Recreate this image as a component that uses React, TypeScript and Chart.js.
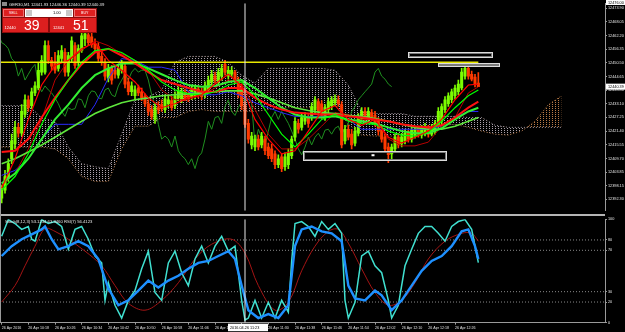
import React, { useEffect, useRef } from "react";
import { Chart, registerables } from "chart.js";

Chart.register(...registerables);

const FONT = "'Liberation Sans', Arial, Helvetica, sans-serif";

const symbolTitle = "GER30,M1  12441.93 12446.36 12440.39 12440.39";
const subTitle = "Stoch(8,12,3) 53.1234 63.9460  RSI(7) 56.4123";
const sellBig = "39";
const sellSmall = "12440";
const buyBig = "51";
const buySmall = "12441";
const lotText = "1.00";

const timeTickIndex = [0, 8, 16, 24, 32, 40, 48, 56, 64, 72, 80, 88, 96, 104, 112, 120, 128, 136];
const timeLabels = [
  "26 Apr 2016", "26 Apr 10:18", "26 Apr 10:26", "26 Apr 10:34", "26 Apr 10:42", "26 Apr 10:50",
  "26 Apr 10:58", "26 Apr 11:06", "26 Apr 11:14", "26 Apr 11:22", "26 Apr 11:30", "26 Apr 11:38",
  "26 Apr 11:46", "26 Apr 11:54", "26 Apr 12:02", "26 Apr 12:10", "26 Apr 12:18", "26 Apr 12:26",
];
const crossIndex = 73;
const crossTimeLabel = "2016.04.26 11:23";

const priceTicks = [12392.30, 12398.15, 12403.85, 12409.70, 12415.55, 12421.40, 12427.25, 12433.10,
  12438.80, 12444.65, 12450.50, 12456.35, 12462.20, 12468.05, 12473.90];
const priceMin = 12387.4;
const priceMax = 12476.0;
const topPriceLabel = "12476.00";
const stochTicks = [0, 20, 30, 70, 80, 100];
const levelValues = [80, 70, 30, 20];
const xMin = -0.5;
const xMax = 181;

const hLinePrice = 12450.8;
const hLineEnd = 143;

// drawn objects (bar index / price)
const objX0 = [121.9, 130.9, 90.4];
const objX1 = [147.1, 149.2, 133.3];
const objTop = [12455.0, 12450.6, 12413.0];
const objBottom = [12452.9, 12449.1, 12409.2];
const markerX = 111.4;
const markerPrice = 12411.1;

// candles (M1 bars, index 0 = 10:10)
const openP = [
  12392.8, 12396.2, 12401.2, 12409.6, 12415.9, 12423.0, 12420.5, 12428.5, 12434.8, 12432.3,
  12437.7, 12439.8, 12446.6, 12446.6, 12457.9, 12451.6, 12450.8, 12448.2, 12452.4, 12455.0,
  12446.6, 12452.4, 12457.9, 12450.8, 12455.8, 12460.8, 12462.5, 12461.7, 12458.7, 12457.5,
  12453.3, 12450.8, 12444.0, 12448.2, 12447.4, 12445.3, 12447.4, 12449.1, 12442.4, 12438.2,
  12436.5, 12439.8, 12438.2, 12436.1, 12433.1, 12430.6, 12426.4, 12431.4, 12432.7, 12430.6,
  12433.1, 12434.4, 12432.3, 12435.6, 12434.8, 12438.2, 12436.9, 12436.1, 12436.5, 12439.4,
  12438.2, 12436.9, 12439.0, 12442.4, 12444.9, 12442.4, 12444.9, 12449.9, 12444.9, 12445.7,
  12446.6, 12443.2, 12439.8, 12432.3, 12424.7, 12415.5, 12414.6, 12418.0, 12415.5, 12418.0,
  12414.6, 12413.8, 12411.7, 12407.1, 12410.4, 12406.2, 12407.1, 12410.9, 12418.8, 12424.7,
  12423.0, 12425.6, 12427.2, 12427.2, 12430.6, 12434.0, 12433.1, 12427.2, 12430.6, 12432.3,
  12433.5, 12434.8, 12432.7, 12417.2, 12422.2, 12420.1, 12416.3, 12420.5, 12426.4, 12429.8,
  12426.4, 12429.3, 12428.1, 12425.6, 12422.2, 12418.8, 12414.6, 12411.7, 12413.8, 12418.8,
  12415.9, 12417.2, 12420.5, 12418.0, 12419.7, 12422.2, 12419.7, 12420.5, 12422.6, 12420.1,
  12421.4, 12423.9, 12425.6, 12430.6, 12433.1, 12434.8, 12436.5, 12438.2, 12439.8, 12444.9,
  12448.2, 12445.7, 12444.5, 12441.93,
];
const highP = [
  12398.3, 12404.6, 12409.6, 12420.1, 12425.6, 12424.7, 12432.7, 12436.9, 12436.5, 12439.8,
  12442.4, 12450.8, 12453.7, 12460.0, 12460.0, 12452.9, 12455.0, 12455.8, 12457.9, 12456.6,
  12455.0, 12461.7, 12459.2, 12458.3, 12463.8, 12464.2, 12463.8, 12463.4, 12460.8, 12459.2,
  12455.8, 12452.4, 12449.9, 12449.5, 12449.1, 12449.9, 12451.6, 12450.8, 12444.0, 12442.4,
  12440.7, 12441.1, 12439.8, 12437.3, 12434.8, 12432.3, 12433.1, 12434.0, 12434.8, 12436.9,
  12436.5, 12436.1, 12438.2, 12440.3, 12439.8, 12439.4, 12438.6, 12440.7, 12441.1, 12440.7,
  12439.8, 12442.4, 12444.9, 12447.4, 12446.6, 12448.2, 12449.9, 12451.6, 12449.1, 12448.7,
  12447.4, 12444.5, 12441.5, 12434.0, 12426.4, 12420.9, 12419.7, 12419.7, 12420.9, 12419.3,
  12416.3, 12415.9, 12413.0, 12411.3, 12411.7, 12412.1, 12413.8, 12419.3, 12427.2, 12426.4,
  12428.9, 12429.3, 12428.5, 12433.5, 12436.1, 12435.2, 12434.4, 12432.7, 12435.6, 12436.1,
  12436.9, 12436.5, 12434.0, 12423.9, 12423.9, 12422.2, 12423.0, 12428.9, 12431.4, 12431.4,
  12431.4, 12430.6, 12429.8, 12427.2, 12423.9, 12420.1, 12416.3, 12415.9, 12420.1, 12420.5,
  12420.5, 12422.2, 12421.8, 12423.0, 12423.5, 12423.5, 12423.9, 12424.7, 12423.9, 12424.3,
  12426.0, 12431.4, 12433.1, 12436.1, 12437.7, 12439.4, 12441.1, 12443.2, 12448.2, 12449.9,
  12449.5, 12447.0, 12445.7, 12446.36,
];
const lowP = [
  12390.7, 12394.9, 12399.9, 12407.5, 12413.8, 12418.8, 12419.3, 12427.2, 12429.8, 12431.0,
  12436.5, 12439.0, 12445.3, 12445.7, 12450.3, 12447.4, 12446.1, 12447.0, 12450.8, 12444.9,
  12444.9, 12450.8, 12448.2, 12449.1, 12455.0, 12457.9, 12457.9, 12457.1, 12455.0, 12451.2,
  12449.5, 12443.2, 12442.4, 12441.5, 12444.0, 12444.0, 12446.1, 12439.8, 12436.9, 12436.5,
  12434.8, 12436.5, 12434.4, 12431.9, 12428.1, 12426.4, 12424.7, 12428.9, 12429.8, 12429.3,
  12431.4, 12430.2, 12431.0, 12434.4, 12433.5, 12434.4, 12434.0, 12434.8, 12435.2, 12435.6,
  12434.8, 12435.6, 12437.7, 12441.1, 12441.9, 12441.1, 12443.2, 12445.3, 12443.6, 12444.5,
  12441.9, 12435.6, 12430.6, 12423.0, 12416.3, 12413.8, 12413.0, 12413.4, 12414.2, 12411.3,
  12409.6, 12408.3, 12405.4, 12405.8, 12404.1, 12404.6, 12405.4, 12409.6, 12417.2, 12420.5,
  12421.8, 12424.3, 12423.0, 12426.0, 12429.3, 12428.1, 12426.8, 12426.0, 12429.3, 12430.6,
  12432.3, 12431.9, 12414.2, 12415.9, 12417.6, 12413.8, 12415.1, 12419.3, 12425.1, 12425.1,
  12425.1, 12426.0, 12423.5, 12419.7, 12416.7, 12412.5, 12407.9, 12409.6, 12412.5, 12414.2,
  12414.6, 12415.9, 12416.7, 12416.7, 12418.4, 12418.8, 12418.4, 12419.3, 12418.8, 12419.3,
  12420.1, 12422.6, 12424.3, 12429.3, 12431.9, 12433.5, 12435.2, 12436.9, 12439.0, 12443.6,
  12443.6, 12442.8, 12440.3, 12440.39,
];
const closeP = [
  12397.0, 12402.0, 12407.5, 12417.2, 12423.0, 12420.5, 12429.8, 12434.8, 12431.4, 12438.2,
  12440.7, 12447.4, 12451.6, 12457.9, 12451.6, 12449.1, 12447.4, 12453.7, 12455.8, 12446.6,
  12453.7, 12460.0, 12449.5, 12456.6, 12462.1, 12462.9, 12459.2, 12458.3, 12456.6, 12452.4,
  12450.8, 12444.9, 12448.2, 12443.2, 12445.7, 12448.2, 12449.9, 12441.5, 12438.2, 12440.7,
  12439.0, 12437.7, 12435.6, 12433.1, 12429.8, 12427.7, 12431.4, 12430.6, 12431.0, 12435.2,
  12434.8, 12431.4, 12436.5, 12438.6, 12438.2, 12435.6, 12435.2, 12439.0, 12439.8, 12436.9,
  12436.1, 12440.7, 12443.2, 12445.7, 12443.2, 12446.6, 12448.2, 12446.6, 12447.4, 12447.4,
  12443.2, 12436.9, 12432.3, 12424.3, 12418.0, 12419.3, 12418.0, 12414.6, 12419.3, 12413.0,
  12410.9, 12409.6, 12407.1, 12409.6, 12405.4, 12410.4, 12412.1, 12418.0, 12425.6, 12422.2,
  12427.2, 12427.7, 12424.7, 12431.9, 12434.8, 12429.8, 12428.1, 12431.4, 12434.0, 12434.8,
  12435.2, 12433.1, 12415.5, 12422.2, 12418.8, 12415.5, 12421.4, 12427.2, 12429.8, 12426.4,
  12429.8, 12427.2, 12424.7, 12421.4, 12418.0, 12413.8, 12411.3, 12414.6, 12418.8, 12415.5,
  12418.8, 12420.5, 12418.0, 12421.8, 12422.2, 12420.1, 12422.6, 12423.5, 12420.1, 12422.6,
  12424.7, 12429.8, 12431.9, 12434.8, 12436.5, 12438.2, 12439.8, 12441.5, 12446.6, 12448.2,
  12444.9, 12443.6, 12441.5, 12440.39,
];
const chikouShift = 26;

// overlay lines, sampled at bar indexes
const maIdx = [0, 4, 8, 12, 16, 20, 24, 28, 32, 36, 40, 44, 48, 52, 56, 60, 64, 68, 72, 76, 80, 84, 88, 92, 96, 100, 104, 108, 112, 116, 120, 124, 128, 132, 136, 140, 143];
const redFast = [12397.0, 12409.6, 12426.4, 12441.1, 12449.5, 12451.6, 12456.6, 12459.2, 12451.6, 12447.4, 12442.4, 12435.6, 12431.4, 12433.1, 12435.6, 12436.9, 12441.5, 12445.7, 12440.7, 12426.4, 12418.0, 12411.7, 12413.0, 12421.4, 12429.8, 12432.3, 12426.4, 12423.9, 12426.4, 12418.8, 12416.3, 12418.8, 12421.4, 12426.4, 12434.8, 12441.1, 12441.5];
const redMid = [12412.5, 12413.0, 12418.0, 12427.2, 12435.6, 12443.2, 12449.9, 12455.0, 12456.6, 12453.7, 12450.3, 12446.6, 12443.2, 12441.5, 12439.8, 12438.2, 12438.2, 12439.8, 12439.8, 12435.6, 12432.7, 12430.6, 12429.3, 12428.9, 12428.5, 12428.5, 12427.7, 12427.2, 12426.4, 12425.6, 12424.3, 12423.5, 12423.0, 12423.9, 12427.2, 12431.4, 12434.0];
const tenkan = [12398.3, 12403.3, 12413.8, 12426.4, 12443.2, 12451.6, 12455.8, 12460.0, 12457.9, 12454.5, 12451.6, 12447.4, 12439.0, 12434.8, 12434.8, 12436.9, 12439.8, 12443.2, 12441.9, 12430.6, 12420.1, 12413.8, 12413.8, 12418.0, 12423.5, 12429.3, 12428.5, 12426.4, 12426.4, 12418.0, 12415.1, 12415.1, 12416.7, 12423.5, 12427.2, 12437.7, 12440.3];
const kijun = [12402.5, 12404.6, 12409.6, 12418.0, 12424.3, 12424.3, 12424.3, 12432.7, 12444.0, 12452.4, 12451.6, 12448.7, 12448.7, 12447.4, 12438.2, 12436.9, 12436.9, 12438.2, 12436.5, 12433.5, 12431.4, 12429.3, 12427.7, 12427.7, 12427.7, 12427.7, 12426.4, 12422.2, 12422.2, 12422.2, 12422.2, 12422.2, 12422.2, 12423.5, 12427.2, 12429.8, 12429.8];
const limeFast = [12396.2, 12402.0, 12411.7, 12424.3, 12434.8, 12443.2, 12450.8, 12455.8, 12456.6, 12455.0, 12451.6, 12447.4, 12442.4, 12439.0, 12437.3, 12436.9, 12438.2, 12441.1, 12442.4, 12436.9, 12428.5, 12420.1, 12414.6, 12420.1, 12426.4, 12428.5, 12425.6, 12424.7, 12424.3, 12421.4, 12419.7, 12419.3, 12420.9, 12425.6, 12431.4, 12436.5, 12439.0];
const limeMid = [12399.1, 12403.3, 12409.6, 12418.0, 12426.4, 12432.7, 12439.8, 12445.3, 12448.2, 12450.3, 12450.3, 12448.2, 12445.7, 12443.2, 12441.1, 12440.3, 12440.7, 12442.4, 12443.2, 12439.8, 12435.6, 12431.4, 12428.5, 12427.2, 12427.2, 12427.7, 12426.4, 12425.6, 12424.7, 12423.0, 12421.4, 12420.5, 12420.5, 12422.6, 12426.4, 12429.8, 12431.4];
const limeSlow = [12407.5, 12409.6, 12412.5, 12415.5, 12418.8, 12422.2, 12425.6, 12428.9, 12431.4, 12433.5, 12434.8, 12435.6, 12436.5, 12436.9, 12437.3, 12437.7, 12438.2, 12438.6, 12438.6, 12437.3, 12435.6, 12433.5, 12431.4, 12430.2, 12429.3, 12428.9, 12428.1, 12427.7, 12426.8, 12425.6, 12424.3, 12423.0, 12422.2, 12422.2, 12423.5, 12425.6, 12427.2];

// ichimoku cloud spans (already shifted forward)
const cloudIdx = [0, 4, 8, 12, 16, 20, 24, 28, 32, 36, 40, 44, 48, 52, 56, 60, 64, 68, 72, 76, 80, 84, 88, 92, 96, 100, 104, 108, 112, 116, 120, 124, 128, 132, 136, 140, 144, 148, 152, 156, 160, 164, 168];
const spanB = [12432.3, 12432.3, 12432.3, 12427.2, 12425.6, 12414.6, 12407.5, 12406.2, 12405.4, 12420.1, 12434.8, 12436.1, 12439.0, 12450.8, 12453.3, 12453.3, 12453.3, 12450.8, 12445.3, 12441.9, 12448.2, 12448.2, 12448.2, 12448.2, 12448.2, 12447.4, 12441.1, 12429.8, 12428.9, 12428.9, 12428.9, 12427.7, 12427.7, 12427.7, 12427.7, 12427.2, 12427.2, 12423.9, 12423.0, 12423.0, 12423.0, 12423.0, 12423.0];
const spanA = [12414.6, 12414.6, 12414.6, 12414.6, 12413.8, 12409.6, 12402.0, 12399.9, 12399.9, 12413.8, 12423.5, 12423.5, 12427.2, 12427.2, 12429.8, 12430.6, 12429.8, 12429.8, 12429.8, 12429.8, 12430.6, 12431.4, 12431.4, 12431.4, 12431.4, 12432.7, 12424.3, 12419.7, 12419.3, 12419.3, 12419.3, 12422.2, 12423.0, 12423.9, 12424.3, 12423.0, 12421.4, 12420.1, 12419.7, 12421.4, 12425.6, 12432.7, 12436.5];

// sub window
const rsiIdx = [0, 2, 4, 6, 8, 9, 10, 12, 14, 16, 18, 20, 22, 24, 26, 28, 30, 31, 32, 34, 36, 38, 40, 42, 44, 46, 48, 50, 52, 54, 56, 58, 60, 62, 64, 66, 68, 70, 72, 73, 74, 76, 78, 80, 82, 84, 86, 87, 88, 90, 92, 94, 96, 98, 100, 102, 103, 104, 106, 108, 110, 112, 114, 116, 117, 119, 121, 123, 125, 127, 129, 131, 133, 135, 137, 139, 141, 143];
const rsiVals = [83.5, 99.7, 95.9, 90.2, 93, 80.7, 78.8, 99.7, 95.9, 97.8, 93, 71, 90.2, 93, 80.7, 64.5, 57.8, 21.6, 38.6, 16.9, 4.5, 21.6, 31.1, 52.1, 69.2, 29.2, 21.6, 57.8, 69.2, 48.3, 35.9, 61.6, 74, 57.8, 74, 83.5, 69.2, 74, 21.6, 2.6, 4.5, 21.6, 4.5, 19.7, 4.5, 21.6, 10.2, 59.7, 95.9, 97.8, 93, 83.5, 97.8, 90.2, 95.9, 86.4, 21.6, 4.5, 19.7, 64.5, 69.2, 55, 48.3, 21.6, 4.5, 16.9, 55, 71, 86.4, 93, 93, 86.4, 78.8, 93, 97.8, 99.7, 90.2, 58];
const stochIdx = [0, 3, 6, 9, 12, 13, 15, 17, 20, 23, 26, 29, 32, 35, 38, 41, 44, 47, 50, 53, 56, 59, 62, 65, 68, 70, 72, 74, 77, 80, 83, 86, 87, 88, 90, 93, 96, 99, 102, 104, 106, 109, 112, 114, 117, 120, 123, 126, 129, 132, 135, 138, 140, 142, 143];
const stochVals = [64.5, 74, 80.7, 85.4, 90.2, 93, 80.7, 71, 74, 78.8, 74, 61.6, 33, 16.9, 21.6, 31.1, 40.7, 34, 40.7, 45.4, 52.1, 57.8, 59.7, 64.5, 69.2, 61.6, 35.9, 12.1, 4.5, 8.3, 4.5, 16.9, 45.4, 74, 90.2, 93, 88.3, 86.4, 78.8, 35.9, 23.5, 21.6, 31.1, 26.4, 12.1, 21.6, 35.9, 50.2, 59.7, 64.5, 74, 88.3, 90.2, 74, 61.6];
const sigIdx = [0, 4, 7, 10, 13, 16, 20, 25, 30, 34, 38, 43, 48, 53, 58, 63, 69, 73, 77, 82, 86, 90, 94, 98, 101, 104, 108, 112, 116, 120, 124, 128, 133, 138, 141, 143];
const sigVals = [20, 35.9, 55, 74, 91, 88.3, 80.7, 69.2, 55, 35.9, 18.8, 12.1, 21.6, 38.6, 61.6, 75.9, 80.7, 67.3, 35.9, 12.1, 19.7, 50.2, 74, 88.3, 90.2, 76.9, 52.1, 29.2, 16.9, 21.6, 38.6, 61.6, 78.8, 86.4, 86.4, 78.8];

const UP = "#7cfc00";
const DOWN = "#ff3a00";
const THISTLE = "#aaa0aa";
const SANDY = "#b87a46";

const xy = (idx: number[], vals: number[]) => idx.map((x, k) => ({ x, y: vals[k] }));

function dotPattern(color: string, w: number, h: number) {
  const c = document.createElement("canvas");
  c.width = w;
  c.height = h;
  const g = c.getContext("2d")!;
  g.fillStyle = color;
  g.fillRect(0, 0, 1, 1);
  return g.createPattern(c, "repeat")!;
}

function lineDs(data: any[], color: string, width: number, order: number, extra: any = {}) {
  return {
    type: "line",
    data,
    borderColor: color,
    borderWidth: width,
    pointRadius: 0,
    fill: false,
    tension: 0,
    order,
    ...extra,
  };
}

export default function App() {
  const mainRef = useRef<HTMLCanvasElement>(null);
  const subRef = useRef<HTMLCanvasElement>(null);

  useEffect(() => {
    document.body.style.margin = "0";
    document.body.style.background = "#000";
    const brownPat = dotPattern(SANDY, 3, 2);
    const thistlePat = dotPattern(THISTLE, 3, 2);

    const candleColors = closeP.map((c, i) => (c >= openP[i] ? UP : DOWN));
    const wickData = openP.map((_, i) => ({ x: i, y: [lowP[i], highP[i]] }));
    const bodyData = openP.map((o, i) => ({ x: i, y: [o, closeP[i]] }));
    const chikouData = closeP.map((c, i) => ({ x: i - chikouShift, y: c }));

    const mainOverlay = {
      id: "mainOverlay",
      afterDraw(chart: any) {
        const { ctx, scales } = chart;
        const xs = scales.x;
        const ys = scales.y;
        ctx.save();
        for (let k = 0; k < objX0.length; k++) {
          const x0 = Math.round(xs.getPixelForValue(objX0[k]));
          const x1 = Math.round(xs.getPixelForValue(objX1[k]));
          const y0 = Math.round(ys.getPixelForValue(objTop[k]));
          const y1 = Math.round(ys.getPixelForValue(objBottom[k]));
          ctx.strokeStyle = "#dcdcdc";
          ctx.lineWidth = 1;
          ctx.strokeRect(x0 + 0.5, y0 + 0.5, x1 - x0, y1 - y0);
          ctx.strokeStyle = "#7a7a7a";
          ctx.strokeRect(x0 + 1.5, y0 + 1.5, x1 - x0 - 2, y1 - y0 - 2);
        }
        const mx = xs.getPixelForValue(markerX);
        const my = ys.getPixelForValue(markerPrice);
        ctx.fillStyle = "#ffffff";
        ctx.fillRect(mx - 1.5, my - 1, 3, 2);

        const right = chart.chartArea.right;
        const last = closeP[closeP.length - 1];
        const py = ys.getPixelForValue(last);
        ctx.fillStyle = "#ffffff";
        ctx.fillRect(right + 1, py - 3, 19, 6);
        ctx.fillStyle = "#000000";
        ctx.font = `3.8px ${FONT}`;
        ctx.textBaseline = "middle";
        ctx.textAlign = "left";
        ctx.fillText(last.toFixed(2), right + 3, py);

        ctx.fillStyle = "#ffffff";
        ctx.fillRect(right + 1, 0, 19, 5);
        ctx.fillStyle = "#000000";
        ctx.fillText(topPriceLabel, right + 3, 2.5);
        ctx.restore();
      },
    };

    const subOverlay = {
      id: "subOverlay",
      afterDraw(chart: any) {
        const { ctx, scales, chartArea } = chart;
        const cx = scales.x.getPixelForValue(crossIndex);
        ctx.save();
        ctx.fillStyle = "#ffffff";
        ctx.fillRect(cx - 17, chartArea.bottom + 1, 40, 7.5);
        ctx.fillStyle = "#000000";
        ctx.font = `3.8px ${FONT}`;
        ctx.textBaseline = "middle";
        ctx.textAlign = "left";
        ctx.fillText(crossTimeLabel, cx - 15, chartArea.bottom + 5);
        ctx.restore();
      },
    };

    const main = new Chart(mainRef.current!, {
      type: "line",
      data: {
        datasets: [
          lineDs(xy(cloudIdx, spanB), THISTLE, 1, 30, { borderDash: [1, 2] }),
          lineDs(xy(cloudIdx, spanA), SANDY, 1, 29, {
            borderDash: [1, 2],
            fill: { target: 0, above: brownPat, below: thistlePat },
          }),
          lineDs(chikouData, "#1f8f1f", 1, 25),
          {
            type: "bar",
            data: wickData,
            backgroundColor: candleColors,
            borderWidth: 0,
            barThickness: 1,
            grouped: false,
            order: 21,
          },
          {
            type: "bar",
            data: bodyData,
            backgroundColor: candleColors,
            borderWidth: 0,
            barThickness: 2.4,
            grouped: false,
            order: 20,
          },
          lineDs(xy(maIdx, kijun), "#2a2aff", 1, 12),
          lineDs(xy(maIdx, tenkan), "#b80000", 1, 11),
          lineDs(xy(maIdx, limeSlow), "#5ee63c", 1.6, 10),
          lineDs(xy(maIdx, limeMid), "#33ee33", 2, 9),
          lineDs(xy(maIdx, redMid), "#ff1010", 2, 8),
          lineDs(xy(maIdx, limeFast), "#00ff00", 1.2, 7),
          lineDs(xy(maIdx, redFast), "#ff0000", 1.2, 6),
          lineDs([{ x: xMin, y: hLinePrice }, { x: hLineEnd, y: hLinePrice }], "#e8e800", 1.5, 2),
          lineDs([{ x: crossIndex, y: priceMin }, { x: crossIndex, y: priceMax }], "#e8e8e8", 1, 1),
        ] as any,
      },
      options: {
        responsive: false,
        animation: false,
        devicePixelRatio: 1,
        events: [],
        layout: { padding: { top: 2, bottom: 1, left: 0, right: 0 } },
        plugins: { legend: { display: false }, tooltip: { enabled: false } },
        scales: {
          x: { type: "linear", min: xMin, max: xMax, display: false, offset: false },
          y: {
            type: "linear",
            position: "right",
            min: priceMin,
            max: priceMax,
            beginAtZero: false,
            afterFit: (s: any) => { s.width = 20; },
            afterBuildTicks: (s: any) => { s.ticks = priceTicks.map((v) => ({ value: v })); },
            ticks: {
              color: "#e6e6e6",
              font: { size: 3.8, family: FONT },
              padding: 1,
              callback: (v: any) => Number(v).toFixed(2),
            },
            grid: { drawOnChartArea: false, drawTicks: true, tickLength: 2, color: "#9a9a9a" },
            border: { display: true, color: "#9a9a9a" },
          },
        },
      } as any,
      plugins: [mainOverlay],
    });

    const sub = new Chart(subRef.current!, {
      type: "line",
      data: {
        datasets: [
          ...levelValues.map((v) =>
            lineDs([{ x: xMin, y: v }, { x: xMax, y: v }], "#8a8a8a", 1, 20, { borderDash: [1, 2] })
          ),
          lineDs(xy(sigIdx, sigVals), "#a41414", 1, 5, { tension: 0.35 }),
          lineDs(xy(rsiIdx, rsiVals), "#40e0d0", 1.5, 4),
          lineDs(xy(stochIdx, stochVals), "#1e90ff", 2.4, 3),
          lineDs([{ x: crossIndex, y: 0 }, { x: crossIndex, y: 100 }], "#e8e8e8", 1, 1),
        ] as any,
      },
      options: {
        responsive: false,
        animation: false,
        devicePixelRatio: 1,
        events: [],
        layout: { padding: { top: 1.7, bottom: 0, left: 0, right: 0 } },
        plugins: { legend: { display: false }, tooltip: { enabled: false } },
        scales: {
          x: {
            type: "linear",
            min: xMin,
            max: xMax,
            offset: false,
            afterFit: (s: any) => { s.height = 9.3; },
            afterBuildTicks: (s: any) => { s.ticks = timeTickIndex.map((v) => ({ value: v })); },
            ticks: {
              color: "#e0e0e0",
              font: { size: 3.6, family: FONT },
              padding: 1,
              align: "start",
              maxRotation: 0,
              autoSkip: false,
              callback: (_v: any, i: number) => timeLabels[i],
            },
            grid: { drawOnChartArea: false, drawTicks: true, tickLength: 2, color: "#9a9a9a" },
            border: { display: true, color: "#9a9a9a" },
          },
          y: {
            type: "linear",
            position: "right",
            min: 0,
            max: 100,
            afterFit: (s: any) => { s.width = 20; },
            afterBuildTicks: (s: any) => { s.ticks = stochTicks.map((v) => ({ value: v })); },
            ticks: {
              color: "#e6e6e6",
              font: { size: 3.8, family: FONT },
              padding: 1,
              callback: (v: any) => String(v),
            },
            grid: { drawOnChartArea: false, drawTicks: true, tickLength: 2, color: "#9a9a9a" },
            border: { display: true, color: "#9a9a9a" },
          },
        },
      } as any,
      plugins: [subOverlay],
    });

    return () => {
      main.destroy();
      sub.destroy();
    };
  }, []);

  const red = "#dd1f1f";
  const small: React.CSSProperties = { position: "absolute", color: "#fff", fontSize: 4, lineHeight: "5px", whiteSpace: "nowrap" };

  return (
    <div style={{ position: "fixed", left: 0, top: 0, width: 625, height: 332, background: "#000", overflow: "hidden", fontFamily: FONT }}>
      <canvas ref={mainRef} width={625} height={214} style={{ position: "absolute", left: 0, top: 0 }} />
      <canvas ref={subRef} width={625} height={116} style={{ position: "absolute", left: 0, top: 216 }} />
      <div style={{ position: "absolute", left: 0, top: 214, width: 605, height: 2, background: "#b4b4b4" }} />
      <div style={{ position: "absolute", left: 0, top: 0, width: 1, height: 323, background: "#9a9a9a" }} />

      <div style={{ position: "absolute", left: 2, top: 2, width: 5, height: 4, background: "#8a8a8a" }} />
      <div style={{ ...small, left: 9, top: 1.5, color: "#e8e8e8", fontSize: 4.2 }}>{symbolTitle}</div>
      <div style={{ ...small, left: 5, top: 219, color: "#e8e8e8", fontSize: 4.2 }}>{subTitle}</div>

      <div style={{ position: "absolute", left: 2, top: 8, width: 95, height: 24.5, background: "#8c0c0c" }} />
      <div style={{ position: "absolute", left: 3, top: 9, width: 21, height: 7.5, background: red, border: "0.5px solid #f07070", boxSizing: "border-box" }}>
        <div style={{ ...small, left: 5, top: 1.2, fontSize: 3.6 }}>SELL</div>
      </div>
      <div style={{ position: "absolute", left: 25, top: 9, width: 48, height: 7.5, background: "#ffffff" }}>
        <div style={{ position: "absolute", left: 1, top: 1, width: 6, height: 5.5, background: "#c8c8c8" }} />
        <div style={{ position: "absolute", right: 1, top: 1, width: 6, height: 5.5, background: "#c8c8c8" }} />
        <div style={{ ...small, left: 28, top: 1.3, color: "#000", fontSize: 4 }}>{lotText}</div>
      </div>
      <div style={{ position: "absolute", left: 74, top: 9, width: 22, height: 7.5, background: red, border: "0.5px solid #f07070", boxSizing: "border-box" }}>
        <div style={{ ...small, left: 6, top: 1.2, fontSize: 3.6 }}>BUY</div>
      </div>
      <div style={{ position: "absolute", left: 3, top: 17.5, width: 45, height: 14, background: red }}>
        <div style={{ ...small, left: 1.5, top: 7.5, fontSize: 4 }}>{sellSmall}</div>
        <div style={{ position: "absolute", left: 21, top: 0, color: "#fff", fontSize: 14, lineHeight: "14px" }}>{sellBig}</div>
      </div>
      <div style={{ position: "absolute", left: 50, top: 17.5, width: 46, height: 14, background: red }}>
        <div style={{ ...small, left: 3, top: 7.5, fontSize: 4 }}>{buySmall}</div>
        <div style={{ position: "absolute", left: 23, top: 0, color: "#fff", fontSize: 14, lineHeight: "14px" }}>{buyBig}</div>
      </div>
    </div>
  );
}
